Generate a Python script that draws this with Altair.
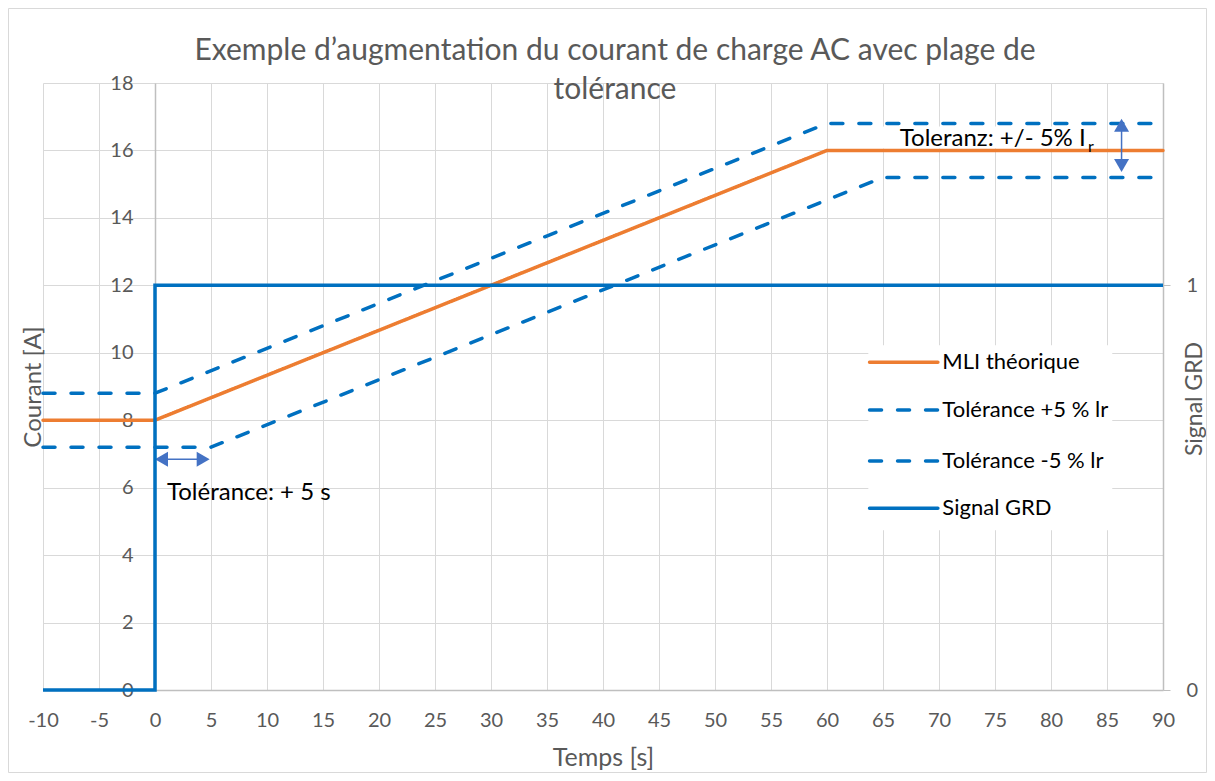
import altair as alt
import pandas as pd

# ---------------- data ----------------
temps_mli = [-10, 0, 60, 90]
courant_mli = [8, 8, 16, 16]
temps_tol_plus = [-10, 0, 60, 90]
courant_tol_plus = [8.8, 8.8, 16.8, 16.8]
temps_tol_minus = [-10, 5, 65, 90]
courant_tol_minus = [7.2, 7.2, 15.2, 15.2]
temps_grd = [-10, 0, 0, 90]
signal_grd = [0, 0, 1, 1]

series = ["MLI théorique", "Tolérance +5 % lr", "Tolérance -5 % lr", "Signal GRD"]
x_ticks = list(range(-10, 91, 5))
y_ticks = list(range(0, 19, 2))
grd_ticks = [0, 1]
title_lines = ["Exemple d\u2019augmentation du courant de charge AC avec plage de", "tolérance"]
note_ir = "Toleranz: +/- 5% I"
note_ir_sub = "r"
note_t = "Tolérance: + 5 s"

# ---------------- styles / positions ----------------
colors = ["#ED7D31", "#0070C0", "#0070C0", "#0070C0"]
dashes = [[1, 0], [12, 16], [12, 16], [1, 0]]
FONT = "Lato"
GRAY = "#595959"
W, H = 1120, 607

rows = []
for name, xs, ys in zip(series[:3], [temps_mli, temps_tol_plus, temps_tol_minus],
                        [courant_mli, courant_tol_plus, courant_tol_minus]):
    for i, (t, v) in enumerate(zip(xs, ys)):
        rows.append({"series": name, "t": t, "v": v, "i": i})
df_cur = pd.DataFrame(rows)
df_grd = pd.DataFrame({"series": series[3], "t": temps_grd, "s": signal_grd, "i": range(len(temps_grd))})

# legend (placed in data units of the current axis)
leg_y = [9.72, 8.30, 6.79, 5.39]
df_leg = pd.DataFrame({"series": series, "y": leg_y, "x0": 63.8, "x1": 69.9, "xl": 70.3})

xscale = alt.Scale(domain=[-10, 90], nice=False, zero=False)
yscale = alt.Scale(domain=[0, 18], nice=False, zero=False)
cscale = alt.Scale(domain=series, range=colors)
dscale = alt.Scale(domain=series, range=dashes)

hyphen = "replace(datum.label, '\u2212', '-')"
xaxis = alt.Axis(values=x_ticks, grid=True, ticks=False, labelPadding=20, labelFlush=False,
                 labelExpr=hyphen, title="Temps [s]", titlePadding=15, titleFontSize=25)
yaxis = alt.Axis(values=y_ticks, grid=True, ticks=False, offset=-112, labelPadding=22,
                 title="Courant [A]", titleX=-115, titleY=H / 2, titleAngle=270, titleFontSize=24,
                 titleAlign="center", titleBaseline="alphabetic")

X = lambda f: alt.X(f, type="quantitative", scale=xscale)
Y = lambda f: alt.Y(f, type="quantitative", scale=yscale)

# white boxes (legend + Toleranz note)
boxes = pd.DataFrame({"x": [63.69, 64.76], "x2": [85.47, 84.41], "y": [4.74, 16.06], "y2": [10.22, 16.71]})
box_layer = alt.Chart(boxes).mark_rect(fill="white").encode(
    x=X("x"), x2="x2", y=Y("y"), y2="y2")

cur_lines = alt.Chart(df_cur).mark_line(strokeWidth=3.5, strokeCap="round").encode(
    x=alt.X("t:Q", scale=xscale, axis=xaxis),
    y=alt.Y("v:Q", scale=yscale, axis=yaxis),
    color=alt.Color("series:N", scale=cscale, legend=None),
    strokeDash=alt.StrokeDash("series:N", scale=dscale, legend=None),
    detail="series:N",
    order="i:Q",
)

leg_sym = alt.Chart(df_leg).mark_rule(strokeWidth=3.5, strokeCap="round").encode(
    x=X("x0"), x2="x1", y=Y("y"),
    color=alt.Color("series:N", scale=cscale, legend=None),
    strokeDash=alt.StrokeDash("series:N", scale=dscale, legend=None),
)
leg_txt = alt.Chart(df_leg).mark_text(align="left", baseline="middle", font=FONT, fontSize=22,
                                       color="black").encode(
    x=X("xl"), y=Y("y"), text="series:N")

# arrows
arrow_heads = pd.DataFrame({"x": [86.3, 86.3, 0.58, 4.3], "y": [16.75, 15.55, 6.84, 6.84],
                            "shape": ["triangle-up", "triangle-down", "triangle-left", "triangle-right"]})
arrow_shafts = pd.DataFrame({"x": [86.3, 0.3], "x2": [86.3, 4.6], "y": [16.75, 6.84], "y2": [15.55, 6.84]})
shaft_layer = alt.Chart(arrow_shafts).mark_rule(color="#4472C4", strokeWidth=1.5).encode(
    x=X("x"), x2="x2", y=Y("y"), y2="y2")
head_layer = alt.Chart(arrow_heads).mark_point(filled=True, size=225, color="#4472C4", opacity=1).encode(
    x=X("x"), y=Y("y"), shape=alt.Shape("shape:N", scale=None))

notes = pd.DataFrame({"x": [83.1, 1.07], "y": [16.13, 5.63], "text": [note_ir, note_t]})
note_ir_layer = alt.Chart(notes.iloc[[0]]).mark_text(align="right", baseline="alphabetic", font=FONT,
                                                     fontSize=24, color="black").encode(
    x=X("x"), y=Y("y"), text="text:N")
note_t_layer = alt.Chart(notes.iloc[[1]]).mark_text(align="left", baseline="alphabetic", font=FONT,
                                                    fontSize=24, color="black").encode(
    x=X("x"), y=Y("y"), text="text:N")
sub_layer = alt.Chart(pd.DataFrame({"x": [83.3], "y": [15.96], "text": [note_ir_sub]})).mark_text(
    align="left", baseline="alphabetic", font=FONT, fontSize=16, color="black").encode(
    x=X("x"), y=Y("y"), text="text:N")

# title lines and outer frame (decoration, pixel positions)
title1 = alt.Chart(pd.DataFrame({"text": [title_lines[0]]})).mark_text(
    align="center", baseline="alphabetic", font=FONT, fontSize=30, color=GRAY).encode(
    x=alt.value(572), y=alt.value(-23), text="text:N")
title2 = alt.Chart(pd.DataFrame({"text": [title_lines[1]]})).mark_text(
    align="center", baseline="alphabetic", font=FONT, fontSize=30, color=GRAY).encode(
    x=alt.value(572), y=alt.value(16), text="text:N")
frame = alt.Chart(pd.DataFrame({"a": [0]})).mark_rect(fillOpacity=0, stroke="#D9D9D9", strokeWidth=1).encode(
    x=alt.value(-34.5), x2=alt.value(1163.5), y=alt.value(-74.5), y2=alt.value(689.5))

inner = alt.layer(frame, box_layer, cur_lines, leg_sym, leg_txt, shaft_layer, head_layer,
                  note_ir_layer, sub_layer, note_t_layer, title1, title2)

grd = alt.Chart(df_grd).mark_line(strokeWidth=3.5, color="#0070C0").encode(
    x=alt.X("t:Q", scale=xscale),
    y=alt.Y("s:Q", scale=alt.Scale(domain=[0, 1.5], nice=False, zero=False),
            axis=alt.Axis(orient="right", values=grd_ticks, grid=False, ticks=True, tickSize=7,
                          labelPadding=16, title="Signal GRD", titleAngle=270, titleX=38,
                          titleY=H / 2 + 12, titleAlign="center", titleBaseline="alphabetic",
                          titleFontSize=23)),
    order="i:Q",
)

chart = alt.layer(inner, grd).resolve_scale(y="independent").properties(
    width=W, height=H,
    autosize=alt.AutoSizeParams(type="none"),
    padding={"left": 35, "top": 75, "right": 44, "bottom": 83},
).configure_view(stroke=None).configure_axis(
    labelFont=FONT, labelFontSize=20, labelColor=GRAY,
    titleFont=FONT, titleFontSize=21, titleColor=GRAY, titleFontWeight="normal",
    gridColor="#D9D9D9", gridWidth=1, domainColor="#BFBFBF", domainWidth=1.5, tickColor="#BFBFBF",
)

chart.save("out.html", embed_options={"renderer": "svg", "actions": False})
